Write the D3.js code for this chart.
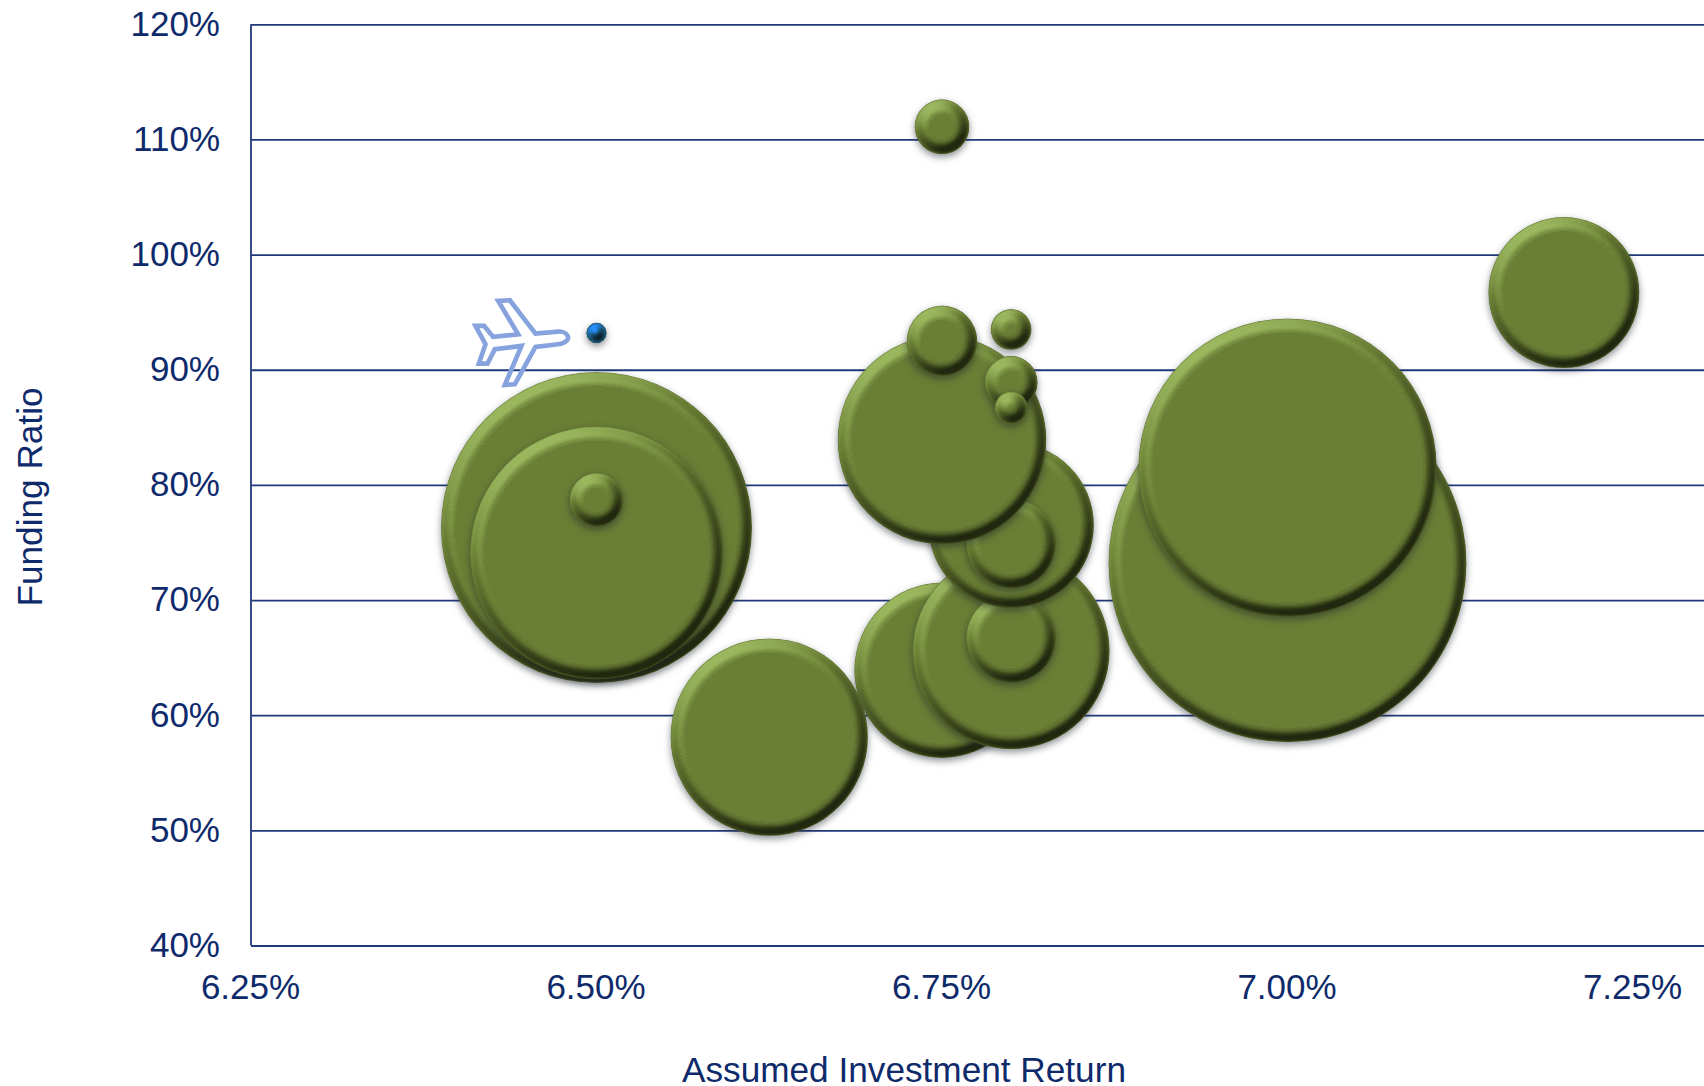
<!DOCTYPE html>
<html>
    <head>
        <meta charset="utf-8">
        <title>funding ratio vs assumed investment return</title>
        <script src="https://d3js.org/d3.v7.min.js"></script>
        <style>
          html, body { margin: 0; padding: 0; background: #fff; overflow: hidden; }
          text { font-family: "Liberation Sans", Arial, sans-serif; fill: #0e2a6b; }
          .axis text { font-size: 35px; }
          .axis line, .axis path { stroke: #1f3a7a; stroke-width: 1.8; }
        </style>
    </head>
    <body>

      <script type="text/javascript">
      // Values, in drawing order (later bubbles sit on top)
      var returns = [6.50, 6.50, 6.50, 6.50, 6.75, 6.625, 6.80, 6.80, 6.80, 6.80, 6.75, 6.75, 6.80, 6.80, 6.80, 6.75, 7.20, 7.00, 7.00];
      var funding = [76.3, 74.1, 78.7, 93.2, 63.9, 58.1, 65.6, 66.7, 76.5, 74.9, 83.9, 92.5, 88.9, 86.7, 93.5, 111.1, 96.7, 73.2, 81.5];
      var sizes   = [75.5, 50.0, 2.3, 0.33, 24.0, 30.4, 30.3, 6.3, 21.4, 6.3, 34.0, 3.9, 2.2, 0.85, 1.3, 2.35, 17.8, 100, 69.5];
      var groups  = ["o", "o", "o", "c", "o", "o", "o", "o", "o", "o", "o", "o", "o", "o", "o", "o", "o", "o", "o"];

      var xTicks = [6.25, 6.50, 6.75, 7.00, 7.25];
      var yTicks = [40, 50, 60, 70, 80, 90, 100, 110, 120];

      var pageWidth = 1704;
      var pageHeight = 1086;

      var mySVG = d3.select("body").append("svg")
                .attr("width", pageWidth)
                .attr("height", pageHeight)
                .style("display", "block");

      // creating scales
      var xScale = d3.scaleLinear().domain([6.25, 7.25]).range([251, 1633]);
      var yScale = d3.scaleLinear().domain([40, 120]).range([945.5, 24.3]);
      var rScale = d3.scaleSqrt().domain([0, 100]).range([0, 179]);
      var cScale = d3.scaleOrdinal().domain(["o", "c"]).range(["#9bb85f", "#288fff"]);

      // bevel filter for the bubbles
      var defs = mySVG.append("defs");
      var filter = defs.append("filter").attr("id", "bevel")
                .attr("x", "-40%").attr("y", "-40%").attr("width", "180%").attr("height", "180%")
                .attr("color-interpolation-filters", "sRGB");
      filter.append("feGaussianBlur").attr("in", "SourceAlpha").attr("stdDeviation", 5.5).attr("result", "blur");
      var heightMap = filter.append("feComponentTransfer").attr("in", "blur").attr("result", "height");
      heightMap.append("feFuncA").attr("type", "table").attr("tableValues", "0 0 0 0 0 0.02 0.1 0.25 0.45 0.7 1");
      var light = filter.append("feDiffuseLighting").attr("in", "height")
                .attr("surfaceScale", 5).attr("diffuseConstant", 1)
                .attr("lighting-color", "#fff").attr("result", "rawLight");
      light.append("feDistantLight").attr("azimuth", 240).attr("elevation", 44.4);
      // tone curve: flat parts stay at the plain olive, top-left goes to the pale highlight
      var tone = filter.append("feComponentTransfer").attr("in", "rawLight").attr("result", "light");
      tone.append("feFuncR").attr("type", "table").attr("tableValues", "0.22 0.28 0.34 0.41 0.47 0.54 0.61 0.69 0.8 0.9 1");
      tone.append("feFuncG").attr("type", "table").attr("tableValues", "0.22 0.28 0.34 0.41 0.47 0.54 0.61 0.69 0.8 0.9 1");
      tone.append("feFuncB").attr("type", "table").attr("tableValues", "0.16 0.21 0.26 0.31 0.37 0.43 0.49 0.56 0.72 0.86 1");
      filter.append("feComposite").attr("in", "light").attr("in2", "SourceGraphic")
                .attr("operator", "arithmetic").attr("k1", 1).attr("result", "lit");
      filter.append("feComposite").attr("in", "lit").attr("in2", "SourceAlpha")
                .attr("operator", "in").attr("result", "body");
      // dark rim along the edge
      filter.append("feGaussianBlur").attr("in", "SourceAlpha").attr("stdDeviation", 1.6).attr("result", "rimBlur");
      var rimAlpha = filter.append("feComponentTransfer").attr("in", "rimBlur").attr("result", "rimEdge");
      rimAlpha.append("feFuncA").attr("type", "table").attr("tableValues", "0 0 0 0 0 0.4 0.3 0.15 0.05 0 0");
      filter.append("feFlood").attr("flood-color", "#3a4a18").attr("result", "rimColor");
      filter.append("feComposite").attr("in", "rimColor").attr("in2", "rimEdge").attr("operator", "in").attr("result", "rimPaint");
      filter.append("feComposite").attr("in", "rimPaint").attr("in2", "SourceAlpha").attr("operator", "in").attr("result", "rim");
      // soft shadow underneath
      filter.append("feGaussianBlur").attr("in", "SourceAlpha").attr("stdDeviation", 3.5).attr("result", "shadowBlur");
      filter.append("feOffset").attr("in", "shadowBlur").attr("dx", 0).attr("dy", 3).attr("result", "shadowOff");
      filter.append("feFlood").attr("flood-color", "#20242c").attr("flood-opacity", 0.5).attr("result", "shadowColor");
      filter.append("feComposite").attr("in", "shadowColor").attr("in2", "shadowOff").attr("operator", "in").attr("result", "shadow");
      var merge = filter.append("feMerge");
      merge.append("feMergeNode").attr("in", "shadow");
      merge.append("feMergeNode").attr("in", "body");
      merge.append("feMergeNode").attr("in", "rim");

      // adding axis
      var yAxis = d3.axisLeft(yScale)
                .tickValues(yTicks)
                .tickSize(-(pageWidth - 251))
                .tickPadding(31)
                .tickFormat(function(d){ return d + "%"; });
      var yAxisGroup = mySVG.append("g").attr("class", "axis yAxis")
                .attr("transform", "translate(" + 251 + "," + 0 + ")")
                .call(yAxis);
      yAxisGroup.selectAll("text").attr("dy", "0.31em");
      yAxisGroup.select(".domain").attr("d", "M0," + yScale(120) + "V" + yScale(40));

      var xAxis = d3.axisBottom(xScale)
                .tickValues(xTicks)
                .tickSize(0)
                .tickPadding(29)
                .tickFormat(function(d){ return d.toFixed(2) + "%"; });
      var xAxisGroup = mySVG.append("g").attr("class", "axis xAxis")
                .attr("transform", "translate(" + 0 + "," + yScale(40) + ")")
                .call(xAxis);
      xAxisGroup.select(".domain").remove();
      xAxisGroup.selectAll("text").attr("dx", "-1");

      // axis titles
      mySVG.append("text")
            .attr("transform", "translate(42,497) rotate(-90)")
            .attr("text-anchor", "middle")
            .style("font-size", "35.2px")
            .text("Funding Ratio");
      mySVG.append("text")
            .attr("x", 904)
            .attr("y", 1082)
            .attr("text-anchor", "middle")
            .style("font-size", "35.2px")
            .text("Assumed Investment Return");

      // top of a line of text that the picture cuts off
      mySVG.append("text")
            .attr("x", 70)
            .attr("y", 1109)
            .style("font-size", "31px")
            .style("fill", "#a9d6cb")
            .text("Available");

      // drawing bubbles
      mySVG.append("g").selectAll("circle").data(returns).enter().append("circle")
            .attr("cx", function(d){ return xScale(d); })
            .attr("cy", function(d, i){ return yScale(funding[i]); })
            .attr("r", function(d, i){ return rScale(sizes[i]); })
            .attr("fill", function(d, i){ return cScale(groups[i]); })
            .attr("filter", "url(#bevel)");

      // plane icon next to the small blue bubble
      var planePath = "M320,140 C318,128 305,121 290,122 L222,128 L145,28 L110,30 L170,130 L95,138 L68,105 L42,105 " +
                      "L72,160 L52,218 L78,218 L100,175 L180,165 L130,282 L160,280 L222,168 L290,160 C305,158 320,150 320,140 Z";
      mySVG.append("path")
            .attr("d", planePath)
            .attr("transform", "translate(" + (xScale(6.50) - 135) + "," + (yScale(93.2) - 42) + ") scale(0.3333)")
            .attr("fill", "none")
            .attr("stroke", "#86a3dd")
            .attr("stroke-width", 14);

      </script>

    </body>
</html>
